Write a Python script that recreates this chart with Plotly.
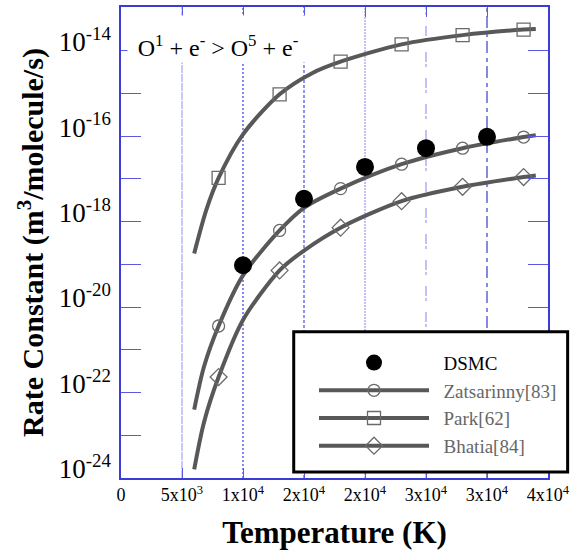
import plotly.graph_objects as go

# ---------------- data ----------------
x_tick_vals = [0, 5000, 10000, 15000, 20000, 25000, 30000, 35000]
x_tick_text = ["0", "5x10<sup>3</sup>", "1x10<sup>4</sup>", "2x10<sup>4</sup>", "2x10<sup>4</sup>",
               "3x10<sup>4</sup>", "3x10<sup>4</sup>", "4x10<sup>4</sup>"]
y_tick_vals = [1e-24, 1e-23, 1e-22, 1e-21, 1e-20, 1e-19, 1e-18, 1e-17, 1e-16, 1e-15, 1e-14]
y_tick_text = ["10<sup>-24</sup>", "", "10<sup>-22</sup>", "", "10<sup>-20</sup>", "",
               "10<sup>-18</sup>", "", "10<sup>-16</sup>", "", "10<sup>-14</sup>"]

dsmc_T = [10000, 15000, 20000, 25000, 30000]
dsmc_k = [9.5e-20, 3.4e-18, 1.9e-17, 5.2e-17, 9.6e-17]

marker_T = [8000, 13000, 18000, 23000, 28000, 33000]

zats_T = [6000, 6800, 8000, 10000, 13000, 15000, 18000, 23000, 28000, 33000, 34000]
zats_k = [4.0e-23, 4.0e-22, 3.6e-21, 5.5e-20, 6.2e-19, 2.1e-18, 5.9e-18, 2.2e-17, 5.2e-17, 9.5e-17, 1.05e-16]

park_T = [6000, 7000, 8000, 10000, 13000, 15700, 18000, 23000, 28000, 33000, 34000]
park_k = [1.8e-19, 1.9e-18, 1.05e-17, 1.1e-16, 9.5e-16, 3.0e-15, 5.5e-15, 1.4e-14, 2.3e-14, 3.1e-14, 3.2e-14]

bhat_T = [6000, 6800, 8000, 10000, 13000, 15000, 18000, 23000, 28000, 33000, 34000]
bhat_k = [1.6e-24, 2.0e-23, 2.3e-22, 5.0e-21, 7.2e-20, 2.1e-19, 7.2e-19, 3.0e-18, 6.5e-18, 1.1e-17, 1.2e-17]

grid_x = [5000, 10000, 15000, 20000, 25000, 30000]
grid_color = ["#a4a4f2", "#3a3ae6", "#4a4ae6", "#9a9af0", "#9a9af2", "#3a3ad0"]
grid_dash = ["8px,1px", "2px,2px", "3px,2px", "2px,1px", "10px,11px,3px,2px", "12px,4px,4px,5px"]

SERIF = "Liberation Serif, Times New Roman, serif"
CURVE = "#585858"
MARK = "#6a6a6a"
AXIS = "#3b3bd9"
TICK = "#5a5ae0"
NBSP = "\u00a0\u00a0"

fig = go.Figure()


def series(T, k, name, symbol, size, rank):
    sel = [i for i, t in enumerate(T) if t in marker_T]
    fig.add_trace(go.Scatter(
        x=T, y=k, mode="lines+markers", name=name, legendrank=rank,
        line=dict(color=CURVE, width=4, shape="spline", smoothing=0.8),
        marker=dict(symbol=symbol, size=size, color=MARK, line=dict(color=MARK, width=1.3)),
        selectedpoints=sel,
        selected=dict(marker=dict(opacity=1)),
        unselected=dict(marker=dict(opacity=0)),
    ))


series(zats_T, zats_k, NBSP + "<span style='color:#666666'>Zatsarinny[83]</span>", "circle-open", 12, 2)
series(park_T, park_k, NBSP + "<span style='color:#666666'>Park[62]</span>", "square-open", 13, 3)
series(bhat_T, bhat_k, NBSP + "<span style='color:#666666'>Bhatia[84]</span>", "diamond-open", 13, 4)

fig.add_trace(go.Scatter(
    x=dsmc_T, y=dsmc_k, mode="markers", name=NBSP + "DSMC", legendrank=1,
    marker=dict(symbol="circle", size=18, color="black"),
))

shapes = []
for gx, gc, gd in zip(grid_x, grid_color, grid_dash):
    shapes.append(dict(type="line", xref="x", yref="paper", x0=gx, x1=gx, y0=0, y1=1,
                       line=dict(color=gc, width=1.2, dash=gd), layer="below"))
# legend frame
shapes.append(dict(type="rect", xref="paper", yref="paper", x0=0.4045, x1=1.046, y0=0.0127, y1=0.3105,
                   line=dict(color="black", width=3), fillcolor="white", layer="above"))

fig.update_layout(
    width=575, height=550, autosize=False,
    margin=dict(l=121, r=22, t=5, b=71),
    paper_bgcolor="white", plot_bgcolor="white",
    font=dict(family=SERIF, color="black"),
    shapes=shapes,
    showlegend=True,
    legend=dict(x=0.452, y=0.285, xanchor="left", yanchor="top",
                bgcolor="rgba(0,0,0,0)", borderwidth=0,
                itemwidth=110, font=dict(family=SERIF, size=19, color="black"),
                tracegroupgap=0),
    annotations=[dict(
        text="O<sup>1</sup> + e<sup>-</sup> > O<sup>5</sup> + e<sup>-</sup>",
        xref="paper", yref="paper", x=0.227, y=0.9325, xanchor="center", yanchor="middle",
        showarrow=False, bgcolor="white", width=178, height=44, valign="bottom",
        font=dict(family=SERIF, size=24, color="black"))],
)

fig.update_xaxes(
    range=[0, 35000], tickvals=x_tick_vals, ticktext=x_tick_text,
    ticks="inside", ticklen=10, tickwidth=1, tickcolor=TICK,
    showline=True, linecolor=AXIS, linewidth=1.5, mirror="ticks",
    showgrid=False, zeroline=False,
    tickfont=dict(family=SERIF, size=18, color="black"),
    title=dict(text="<b>Temperature (K)</b>", font=dict(family=SERIF, size=31, color="black"), standoff=18),
)
fig.update_yaxes(
    type="log", range=[-24, -12.98], tickvals=y_tick_vals, ticktext=y_tick_text,
    ticks="inside", ticklen=20, tickwidth=1, tickcolor=TICK,
    showline=True, linecolor=AXIS, linewidth=1.5, mirror="ticks",
    showgrid=False, zeroline=False,
    ticklabelshift=-9, ticklabelstandoff=3,
    tickfont=dict(family=SERIF, size=27, color="black"),
    title=dict(text="<b>Rate Constant (m<sup>3</sup>/molecule/s)</b>",
               font=dict(family=SERIF, size=30, color="black"), standoff=6),
)

fig.write_html("out.html")
